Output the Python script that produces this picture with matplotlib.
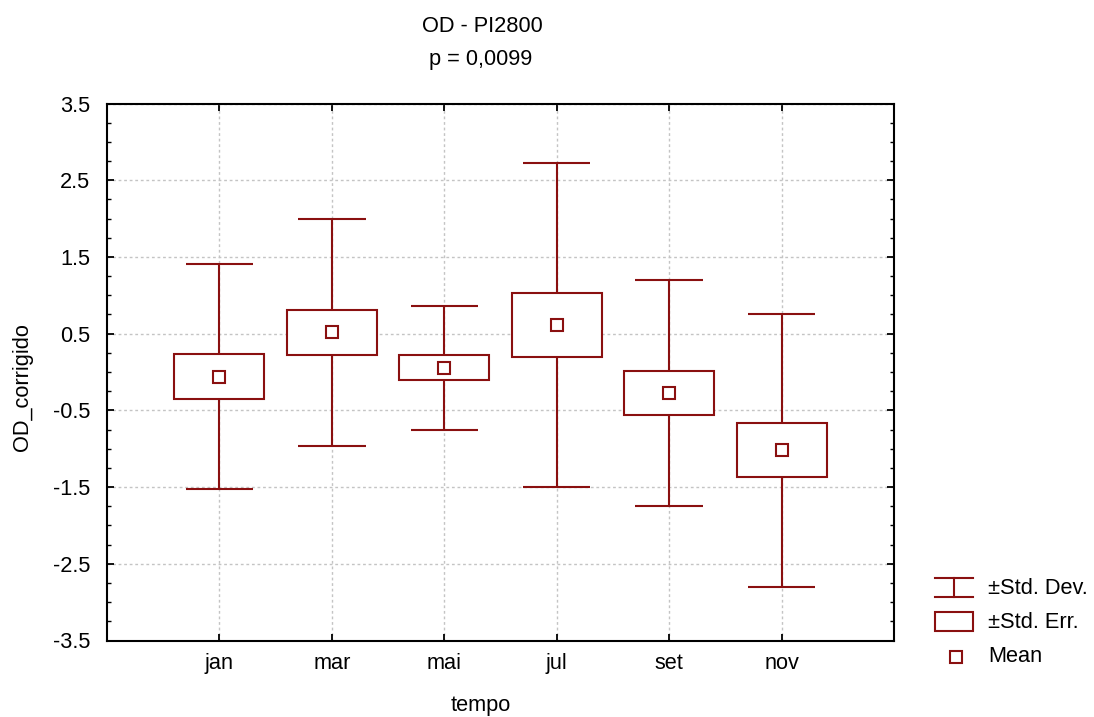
import numpy as np
import matplotlib
matplotlib.use("Agg")
import matplotlib.pyplot as plt
from matplotlib.patches import Rectangle
from matplotlib.lines import Line2D
from matplotlib.ticker import MultipleLocator

plt.rcParams['font.family'] = ['Liberation Sans', 'DejaVu Sans']

# dados
tempo = ['jan', 'mar', 'mai', 'jul', 'set', 'nov']
media = [-0.06, 0.515, 0.053, 0.61, -0.272, -1.02]
erro_padrao = [0.295, 0.296, 0.163, 0.42, 0.285, 0.354]
desvio_padrao = [1.47, 1.483, 0.807, 2.11, 1.476, 1.78]

cor = '#8a1010'
fs = 15.7
lw = 1.5

fig = plt.figure(figsize=(10.94, 7.17), dpi=100)
ax = fig.add_axes([107/1094, 1-640.5/717, (894-107)/1094, (640.5-103.5)/717])

x = np.arange(len(tempo))
m = np.array(media)
se = np.array(erro_padrao)
sd = np.array(desvio_padrao)

# desvio padrao
ax.vlines(x, m - sd, m - se, color=cor, lw=lw, zorder=3)
ax.vlines(x, m + se, m + sd, color=cor, lw=lw, zorder=3)
ax.hlines(m - sd, x - 0.3, x + 0.3, color=cor, lw=lw, zorder=3)
ax.hlines(m + sd, x - 0.3, x + 0.3, color=cor, lw=lw, zorder=3)

# erro padrao
for xi, mi, si in zip(x, m, se):
    ax.add_patch(Rectangle((xi - 0.4, mi - si), 0.8, 2*si, facecolor='white',
                           edgecolor=cor, lw=lw, zorder=4))

# media
ax.plot(x, m, ls='none', marker='s', ms=8.5, mfc='white', mec=cor, mew=1.5, zorder=5)

ax.set_xlim(-1, 6)
ax.set_ylim(-3.5, 3.5)
ax.set_xticks(x)
ax.set_xticklabels(tempo)
ax.set_yticks(np.arange(-3.5, 3.6, 1.0))
ax.set_yticklabels([('%.1f' % v) for v in np.arange(-3.5, 3.6, 1.0)])
ax.yaxis.set_minor_locator(MultipleLocator(0.25))
ax.tick_params(which='both', direction='in', top=True, right=True, labelsize=fs)
ax.tick_params(which='major', length=5, width=1.3)
ax.tick_params(which='minor', length=3, width=1.0)
ax.tick_params(axis='x', pad=9)
ax.tick_params(axis='y', pad=12)
ax.grid(True, which='major', color='#c4c4c4', ls=(0, (2, 2)), lw=1.0, zorder=0)
for s in ax.spines.values():
    s.set_linewidth(1.5)

fig.text(482/1094, 1-26/717, 'OD - PI2800', ha='center', va='center', fontsize=fs)
fig.text(481/1094, 1-60/717, 'p = 0,0099', ha='center', va='center', fontsize=fs)
fig.text(481/1094, 1-706/717, 'tempo', ha='center', va='center', fontsize=fs)
fig.text(23/1094, 1-387/717, 'OD_corrigido', ha='center', va='center',
         rotation=90, fontsize=fs)

# legenda desenhada a mao
def fx(px):
    return px/1094
def fy(py):
    return 1 - py/717

tf = fig.transFigure
fig.add_artist(Line2D([fx(935), fx(973)], [fy(578), fy(578)], color=cor, lw=lw, transform=tf))
fig.add_artist(Line2D([fx(935), fx(973)], [fy(597), fy(597)], color=cor, lw=lw, transform=tf))
fig.add_artist(Line2D([fx(954), fx(954)], [fy(578), fy(597)], color=cor, lw=lw, transform=tf))
fig.add_artist(Rectangle((fx(935), fy(631)), fx(38), 19/717, facecolor='white',
                         edgecolor=cor, lw=lw, transform=tf))
fig.add_artist(Line2D([fx(955.5)], [fy(657)], ls='none', marker='s', ms=8.5, mfc='white',
                      mec=cor, mew=1.5, transform=tf))
fig.text(fx(988), fy(588), '±Std. Dev.', va='center', fontsize=fs)
fig.text(fx(988), fy(622), '±Std. Err.', va='center', fontsize=fs)
fig.text(fx(988), fy(657), 'Mean', va='center', fontsize=fs)

fig.savefig('out.png', dpi=100)
